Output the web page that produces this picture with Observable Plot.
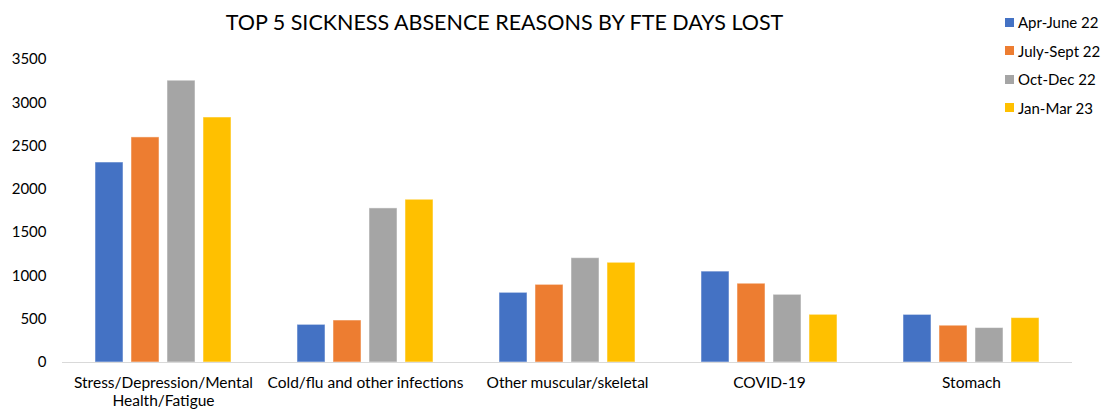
<!DOCTYPE html>
<html>
<head>
<meta charset="utf-8">
<script src="https://cdn.jsdelivr.net/npm/d3@7"></script>
<script src="https://cdn.jsdelivr.net/npm/@observablehq/plot@0.6"></script>
<style>
  html, body { margin: 0; padding: 0; background: #fff; }
  #wrap { position: relative; width: 1101px; height: 410px; font-family: Lato, "Open Sans", sans-serif; color: #000; }
  #title { position: absolute; left: 0; top: 9px; width: 1009px; text-align: center; font-size: 21.5px; color: #000; }
  #legend { position: absolute; left: 1005px; top: 8px; font-size: 15px; color: #000; }
  .item { display: flex; align-items: center; height: 28.5px; white-space: nowrap; }
  .sw { width: 9px; height: 9px; margin-right: 4px; }
  #chart { position: absolute; left: 0; top: 0; }
</style>
</head>
<body>
<div id="wrap">
  <div id="chart"></div>
  <div id="title">TOP 5 SICKNESS ABSENCE REASONS BY FTE DAYS LOST</div>
  <div id="legend"></div>
</div>
<script>
const categories = ["Stress/Depression/Mental Health/Fatigue", "Cold/flu and other infections", "Other muscular/skeletal", "COVID-19", "Stomach"];
const periods = ["Apr-June 22", "July-Sept 22", "Oct-Dec 22", "Jan-Mar 23"];
const aprJun22 = [2310, 435, 805, 1050, 550];
const julSep22 = [2600, 485, 897, 910, 425];
const octDec22 = [3255, 1780, 1205, 782, 398];
const janMar23 = [2830, 1880, 1152, 551, 513];
const colors = ["#4472C4", "#ED7D31", "#A5A5A5", "#FFC000"];
const yTicks = [0, 500, 1000, 1500, 2000, 2500, 3000, 3500];

const series = [aprJun22, julSep22, octDec22, janMar23];
const data = [];
categories.forEach((c, i) => {
  periods.forEach((p, j) => data.push({category: c, period: p, value: series[j][i]}));
});

const chart = Plot.plot({
  width: 1101,
  height: 410,
  marginLeft: 60,
  marginRight: 28,
  marginTop: 59,
  marginBottom: 48,
  style: {fontFamily: "Lato, 'Open Sans', sans-serif", fontSize: "15px", color: "#000", background: "transparent"},
  fx: {domain: categories, padding: 0, label: null},
  x: {domain: periods, paddingInner: 0.216, paddingOuter: 0.84, axis: null},
  y: {domain: [0, 3500], label: null},
  color: {domain: periods, range: colors},
  marks: [
    Plot.axisY(yTicks, {anchor: "left", tickSize: 0, tickPadding: 16, tickFormat: d => String(d), label: null, fontSize: 15}),
    Plot.axisFx({anchor: "bottom", tickSize: 0, tickPadding: 12, label: null, fontSize: 15.5, lineHeight: 1.2,
      tickFormat: d => d.replace("Mental ", "Mental\n")}),
    Plot.barY(data, {fx: "category", x: "period", y: "value", fill: "period", stroke: "#ffffff", strokeOpacity: 0.5, strokeWidth: 1}),
    Plot.ruleY([0], {stroke: "#d9d9d9", strokeWidth: 1.2})
  ]
});
document.getElementById("chart").appendChild(chart);

const legend = document.getElementById("legend");
periods.forEach((p, i) => {
  const row = document.createElement("div");
  row.className = "item";
  const sw = document.createElement("div");
  sw.className = "sw";
  sw.style.background = colors[i];
  const t = document.createElement("span");
  t.textContent = p;
  row.appendChild(sw);
  row.appendChild(t);
  legend.appendChild(row);
});
</script>
</body>
</html>
